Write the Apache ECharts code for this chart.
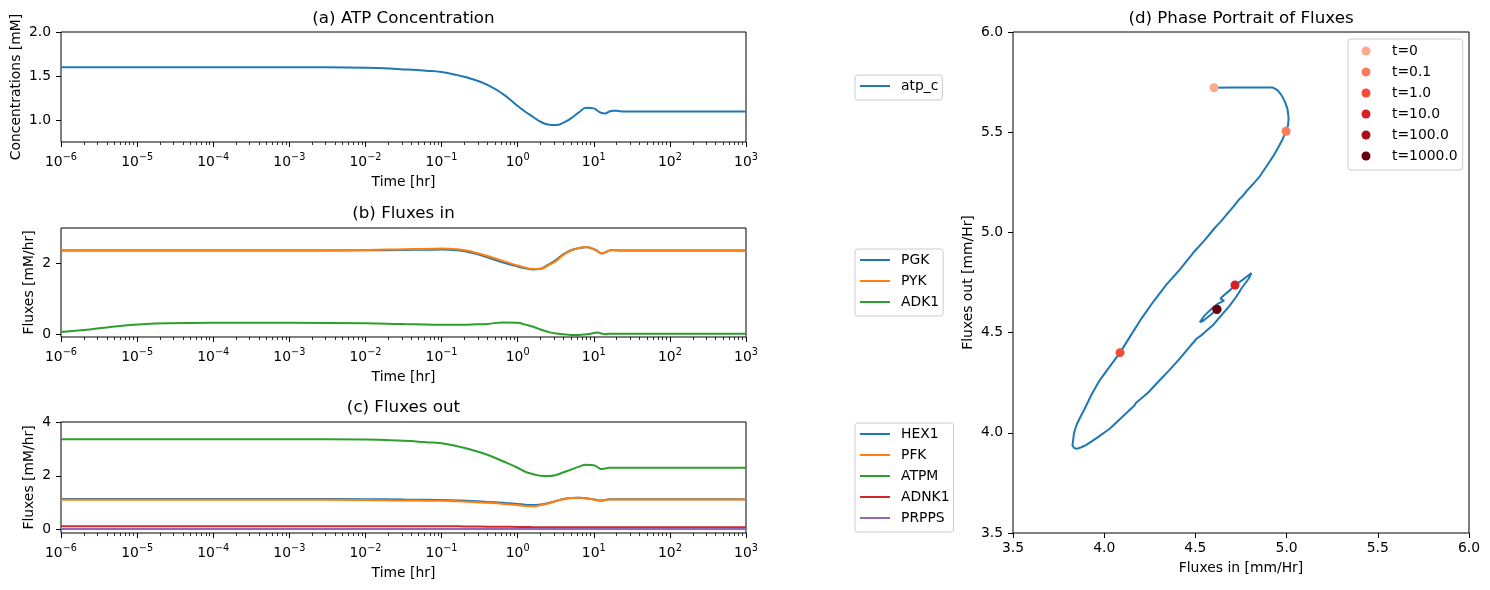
<!DOCTYPE html>
<html>
<head>
<meta charset="utf-8">
<script src="https://cdn.jsdelivr.net/npm/echarts@6/dist/echarts.min.js"></script>
<style>html,body{margin:0;padding:0;background:#fff}#c{width:1490px;height:590px}</style>
</head>
<body>
<div id="c"></div>
<script>
// ---- Data ----
const time = [1e-6,2e-6,4e-6,1e-5,2.5e-5,1e-4,1e-3,1e-2,0.032,0.063,0.1,0.16,0.25,0.4,0.63,1,1.26,1.6,2,2.5,3.2,4,5,6.3,8,10,11.2,12.6,14.1,15.8,17.8,20,25,32,50,100,1000];

const atp_c = [1.60,1.60,1.60,1.60,1.60,1.60,1.60,1.595,1.575,1.56,1.545,1.51,1.466,1.40,1.30,1.16,1.094,1.034,0.98,0.95,0.943,0.97,1.018,1.083,1.138,1.132,1.105,1.08,1.075,1.094,1.105,1.104,1.098,1.098,1.098,1.098,1.098];

const PGK  = [2.365,2.365,2.365,2.365,2.365,2.365,2.365,2.37,2.38,2.385,2.39,2.37,2.30,2.17,2.03,1.91,1.86,1.83,1.85,1.96,2.10,2.26,2.37,2.43,2.455,2.40,2.35,2.28,2.31,2.36,2.375,2.37,2.365,2.365,2.365,2.365,2.365];
const PYK  = [2.37,2.37,2.37,2.37,2.37,2.37,2.37,2.38,2.40,2.41,2.42,2.40,2.33,2.21,2.07,1.94,1.88,1.84,1.85,1.94,2.07,2.24,2.36,2.43,2.46,2.40,2.35,2.28,2.31,2.36,2.376,2.37,2.365,2.365,2.365,2.365,2.365];
const ADK1 = [0.06,0.12,0.19,0.27,0.31,0.32,0.32,0.31,0.284,0.274,0.264,0.264,0.274,0.29,0.33,0.32,0.27,0.21,0.132,0.066,0.019,0.0,-0.02,-0.02,0.0,0.03,0.05,0.02,0.0,0.01,0.01,0.01,0.01,0.01,0.01,0.01,0.01];

const HEX1  = [1.14,1.14,1.14,1.14,1.14,1.14,1.14,1.13,1.115,1.11,1.10,1.085,1.065,1.03,0.995,0.955,0.925,0.91,0.935,0.985,1.065,1.135,1.175,1.185,1.165,1.125,1.09,1.08,1.10,1.125,1.13,1.13,1.13,1.13,1.13,1.13,1.13];
const PFK   = [1.11,1.11,1.11,1.11,1.11,1.11,1.11,1.10,1.08,1.075,1.07,1.05,1.03,0.995,0.957,0.91,0.88,0.87,0.91,0.97,1.06,1.13,1.17,1.18,1.16,1.12,1.08,1.07,1.095,1.12,1.12,1.12,1.12,1.12,1.12,1.12,1.12];
const ATPM  = [3.36,3.36,3.36,3.36,3.36,3.36,3.36,3.35,3.30,3.25,3.21,3.10,2.96,2.78,2.55,2.30,2.15,2.06,2.00,1.99,2.03,2.13,2.23,2.33,2.415,2.39,2.32,2.25,2.27,2.30,2.30,2.30,2.30,2.30,2.30,2.30,2.30];
const ADNK1 = [0.125,0.125,0.125,0.125,0.125,0.125,0.125,0.125,0.125,0.125,0.125,0.12,0.115,0.11,0.105,0.10,0.095,0.09,0.09,0.09,0.09,0.09,0.09,0.09,0.09,0.09,0.09,0.09,0.09,0.09,0.09,0.09,0.09,0.09,0.09,0.09,0.09];
const PRPPS = [0.02,0.02,0.02,0.02,0.02,0.02,0.02,0.02,0.02,0.02,0.02,0.02,0.02,0.02,0.02,0.02,0.02,0.02,0.02,0.02,0.02,0.02,0.02,0.02,0.02,0.02,0.02,0.02,0.02,0.02,0.02,0.02,0.02,0.02,0.02,0.02,0.02];

// Phase portrait trajectory
const fluxIn  = [4.602,4.70,4.80,4.925,4.950,4.972,4.992,5.005,5.011,5.008,4.997,4.978,4.955,4.925,4.890,4.853,4.815,4.779,4.758,4.743,4.705,4.670,4.640,4.606,4.550,4.487,4.420,4.341,4.270,4.204,4.145,4.087,4.030,3.975,3.930,3.893,3.870,3.851,3.838,3.833,3.830,3.826,3.835,3.848,3.875,3.902,3.960,4.030,4.100,4.167,4.172,4.240,4.304,4.360,4.414,4.460,4.505,4.530,4.550,4.601,4.650,4.687,4.725,4.756,4.793,4.807,4.790,4.757,4.717,4.690,4.661,4.637,4.657,4.625,4.596,4.551,4.524,4.535,4.551,4.588,4.618];
const fluxOut = [5.722,5.723,5.723,5.723,5.710,5.685,5.650,5.615,5.570,5.535,5.505,5.465,5.425,5.378,5.330,5.280,5.240,5.205,5.180,5.168,5.125,5.088,5.055,5.022,4.960,4.897,4.820,4.739,4.655,4.570,4.485,4.400,4.330,4.262,4.190,4.120,4.080,4.045,4.010,3.990,3.965,3.937,3.925,3.920,3.928,3.940,3.975,4.020,4.080,4.137,4.147,4.200,4.262,4.315,4.370,4.420,4.468,4.485,4.500,4.542,4.595,4.633,4.680,4.725,4.770,4.797,4.785,4.762,4.737,4.712,4.690,4.670,4.660,4.645,4.625,4.586,4.553,4.555,4.565,4.592,4.617];

const markLabels = ['t=0','t=0.1','t=1.0','t=10.0','t=100.0','t=1000.0'];
const markIn  = [4.602,4.997,4.087,4.717,4.618,4.618];
const markOut = [5.722,5.505,4.400,4.737,4.617,4.615];
const markColors = ['#fcab8e','#fb7d5d','#f34c37','#d42020','#aa1016','#67000d'];

const timeTicks = [-6,-5,-4,-3,-2,-1,0,1,2,3];   // exponents of 10
const yTicksA = [1.0,1.5,2.0];
const yTicksB = [0,2];
const yTicksC = [0,2,4];

// ---- Styling helpers ----
const FONT = 'DejaVu Sans';
const FS = 13.9;
const C = ['#1f77b4','#ff7f0e','#2ca02c','#d62728','#9467bd'];
const LINE_ICON = 'path://M0,0H30V2H0Z';

const minorTicks = [];
for (let n = -6; n < 3; n++) for (let k = 2; k <= 9; k++) minorTicks.push(n + Math.log10(k));

const grids = [
  {left: 61, top: 32, width: 685, height: 110},
  {left: 61, top: 228, width: 685, height: 109},
  {left: 61, top: 422, width: 685, height: 111},
  {left: 1013, top: 32, width: 456, height: 501}
].map(g => Object.assign({show: true, borderColor: '#000', borderWidth: 1, backgroundColor: 'transparent', containLabel: false, outerBoundsMode: 'none'}, g));

function supExp(v) {
  const e = Math.round(v);
  return '{b|10}{s|' + (e < 0 ? '\u2212' + (-e) : String(e)) + '}';
}

function timeAxis(gi) {
  return {
    type: 'value', gridIndex: gi, min: -6, max: 3, interval: 1, position: 'bottom',
    name: 'Time [hr]', nameLocation: 'middle', nameGap: 33,
    nameTextStyle: {fontFamily: FONT, fontSize: FS, color: '#000'},
    axisLine: {show: false, onZero: false},
    axisTick: {show: true, length: 5, lineStyle: {color: '#000', width: 1}, customValues: timeTicks},
    axisLabel: {
      show: true, margin: 10, color: '#000', fontFamily: FONT, lineHeight: 17,
      customValues: timeTicks, showMinLabel: true, showMaxLabel: true, hideOverlap: false,
      formatter: supExp,
      rich: {
        b: {fontFamily: FONT, fontSize: FS, color: '#000', verticalAlign: 'bottom'},
        s: {fontFamily: FONT, fontSize: 9.7, color: '#000', verticalAlign: 'top'}
      }
    },
    splitLine: {show: false}
  };
}
function minorAxis(gi) {
  return {
    type: 'value', gridIndex: gi, min: -6, max: 3, position: 'bottom',
    axisLine: {show: false, onZero: false},
    axisTick: {show: true, length: 3, lineStyle: {color: '#000', width: 0.8}, customValues: minorTicks},
    axisLabel: {show: false},
    splitLine: {show: false}
  };
}
function valAxis(gi, min, max, ticks, fmt, name, gap) {
  return {
    type: 'value', gridIndex: gi, min: min, max: max,
    name: name, nameLocation: 'middle', nameGap: gap,
    nameTextStyle: {fontFamily: FONT, fontSize: FS, color: '#000'},
    axisLine: {show: false, onZero: false},
    axisTick: {show: true, length: 5, lineStyle: {color: '#000', width: 1}, customValues: ticks},
    axisLabel: {show: true, margin: 10, color: '#000', fontFamily: FONT, fontSize: FS,
      customValues: ticks, formatter: fmt, showMinLabel: true, showMaxLabel: true},
    splitLine: {show: false}
  };
}

const pairs = arr => time.map((t, i) => [Math.log10(t), arr[i]]);
function lineSeries(name, arr, color, xi, yi) {
  return {
    type: 'line', name: name, data: pairs(arr), xAxisIndex: xi, yAxisIndex: yi,
    symbol: 'none', showSymbol: false, smooth: 0.5,
    lineStyle: {color: color, width: 2}, itemStyle: {color: color}, color: color,
    emphasis: {disabled: true}, silent: true
  };
}

const series = [
  lineSeries('atp_c', atp_c, C[0], 0, 0),
  lineSeries('PGK', PGK, C[0], 2, 1),
  lineSeries('PYK', PYK, C[1], 2, 1),
  lineSeries('ADK1', ADK1, C[2], 2, 1),
  lineSeries('HEX1', HEX1, C[0], 4, 2),
  lineSeries('PFK', PFK, C[1], 4, 2),
  lineSeries('ATPM', ATPM, C[2], 4, 2),
  lineSeries('ADNK1', ADNK1, C[3], 4, 2),
  lineSeries('PRPPS', PRPPS, C[4], 4, 2),
  {
    type: 'line', name: 'trajectory', xAxisIndex: 6, yAxisIndex: 3,
    data: fluxIn.map((x, i) => [x, fluxOut[i]]),
    symbol: 'none', showSymbol: false, smooth: false,
    lineStyle: {color: C[0], width: 2}, color: C[0], silent: true, z: 2
  }
];
markLabels.forEach((lab, i) => {
  series.push({
    type: 'scatter', name: lab, xAxisIndex: 6, yAxisIndex: 3,
    data: [[markIn[i], markOut[i]]], symbol: 'circle', symbolSize: 9,
    itemStyle: {color: markColors[i], opacity: 1}, color: markColors[i], silent: true, z: 3
  });
});

function legend(names, left, top, isMarker) {
  return {
    data: names.map(n => ({name: n, icon: isMarker ? 'circle' : LINE_ICON})),
    orient: 'vertical', left: left, top: top,
    selectedMode: false, symbolKeepAspect: true,
    itemWidth: isMarker ? 9 : 30, itemHeight: isMarker ? 9 : 14, itemGap: 7,
    padding: isMarker ? [5, 5, 7, 13.5] : [4, 4, 7, 5],
    borderColor: '#cccccc', borderWidth: 1, borderRadius: 3,
    backgroundColor: 'rgba(255,255,255,0.8)',
    textStyle: {fontFamily: FONT, fontSize: FS, color: '#000', padding: [0, 0, 0, isMarker ? 16.5 : 6]}
  };
}

function title(text, cx, top) {
  return {text: text, left: cx, top: top, textAlign: 'center', padding: 0,
    textStyle: {fontFamily: FONT, fontSize: 16.7, fontWeight: 'normal', color: '#000'}};
}

const option = {
  animation: false,
  backgroundColor: '#fff',
  textStyle: {fontFamily: FONT},
  title: [
    title('(a) ATP Concentration', 403.5, 10),
    title('(b) Fluxes in', 403.5, 205),
    title('(c) Fluxes out', 403.5, 399),
    title('(d) Phase Portrait of Fluxes', 1241, 10)
  ],
  legend: [
    legend(['atp_c'], 855, 75, false),
    legend(['PGK','PYK','ADK1'], 855, 249, false),
    legend(['HEX1','PFK','ATPM','ADNK1','PRPPS'], 855, 423, false),
    legend(markLabels, 1348, 39, true)
  ],
  grid: grids,
  xAxis: [
    timeAxis(0), minorAxis(0),
    timeAxis(1), minorAxis(1),
    timeAxis(2), minorAxis(2),
    {
      type: 'value', gridIndex: 3, min: 3.5, max: 6.0, interval: 0.5,
      name: 'Fluxes in [mm/Hr]', nameLocation: 'middle', nameGap: 28,
      nameTextStyle: {fontFamily: FONT, fontSize: FS, color: '#000'},
      axisLine: {show: false, onZero: false},
      axisTick: {show: true, length: 5, lineStyle: {color: '#000', width: 1}},
      axisLabel: {show: true, margin: 8, color: '#000', fontFamily: FONT, fontSize: FS,
        formatter: v => v.toFixed(1), showMinLabel: true, showMaxLabel: true},
      splitLine: {show: false}
    }
  ],
  yAxis: [
    valAxis(0, 0.75, 2.0, yTicksA, v => v.toFixed(1), 'Concentrations [mM]', 38),
    valAxis(1, -0.08, 3.0, yTicksB, v => String(Math.round(v)), 'Fluxes [mM/hr]', 25),
    valAxis(2, -0.127, 4.0, yTicksC, v => String(Math.round(v)), 'Fluxes [mM/hr]', 25),
    {
      type: 'value', gridIndex: 3, min: 3.5, max: 6.0, interval: 0.5,
      name: 'Fluxes out [mm/Hr]', nameLocation: 'middle', nameGap: 38,
      nameTextStyle: {fontFamily: FONT, fontSize: FS, color: '#000'},
      axisLine: {show: false, onZero: false},
      axisTick: {show: true, length: 5, lineStyle: {color: '#000', width: 1}},
      axisLabel: {show: true, margin: 10, color: '#000', fontFamily: FONT, fontSize: FS,
        formatter: v => v.toFixed(1), showMinLabel: true, showMaxLabel: true},
      splitLine: {show: false}
    }
  ],
  series: series
};

const chart = echarts.init(document.getElementById('c'), null, {renderer: 'canvas'});
chart.setOption(option);
</script>
</body>
</html>
